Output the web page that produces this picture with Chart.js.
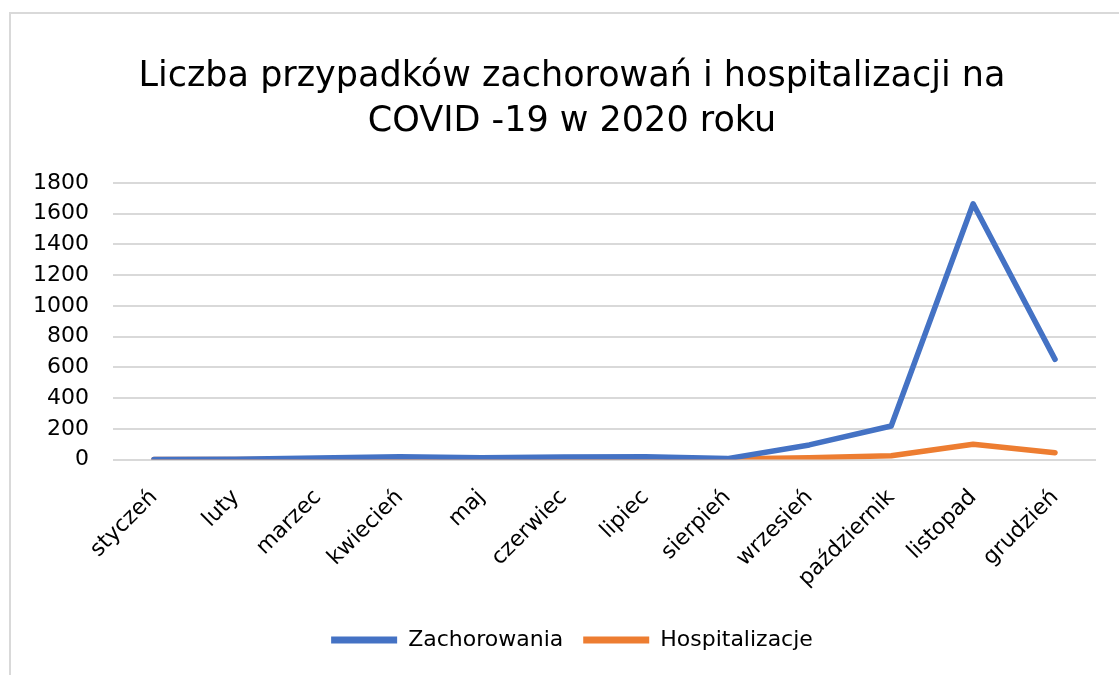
<!DOCTYPE html>
<html>
<head>
<meta charset="utf-8">
<script src="https://cdn.jsdelivr.net/npm/chart.js@4.4.1/dist/chart.umd.min.js"></script>
<style>
  html, body { margin: 0; padding: 0; background: #fff; overflow: hidden; }
  #wrap { position: relative; width: 1119px; height: 675px; overflow: hidden; }
  #frame { position: absolute; left: 9px; top: 12px; right: -5px; bottom: -5px;
           border-left: 2px solid #d9d9d9; border-top: 2px solid #d9d9d9; }
  canvas { position: absolute; left: 0; top: 0; }
</style>
</head>
<body>
<div id="wrap">
  <div id="frame"></div>
  <!-- wykres jest szerszy niz kadr, prawa krawedz ucieta jak w oryginale -->
  <canvas id="myChart" width="1135" height="675"></canvas>
</div>
<script>
// dane z wykresu
const months = ["styczeń", "luty", "marzec", "kwiecień", "maj", "czerwiec",
  "lipiec", "sierpień", "wrzesień", "październik", "listopad", "grudzień"];
const zachorowania = [0, 2, 10, 18, 12, 16, 18, 6, 95, 218, 1665, 652];
const hospitalizacje = [0, 0, 2, 5, 3, 4, 5, 3, 12, 25, 100, 44];
const yTicks = [0, 200, 400, 600, 800, 1000, 1200, 1400, 1600, 1800];

const font = "DejaVu Sans";
const ctx = document.getElementById("myChart");

const chart = new Chart(ctx, {
  type: "line",
  data: {
    labels: months,
    datasets: [
      {
        label: "Zachorowania",
        data: zachorowania,
        borderColor: "#4472C4",
        backgroundColor: "#4472C4",
        borderWidth: 5.5,
        borderCapStyle: "round",
        borderJoinStyle: "round",
        pointRadius: 0,
        tension: 0,
      },
      {
        label: "Hospitalizacje",
        data: hospitalizacje,
        borderColor: "#ED7D31",
        backgroundColor: "#ED7D31",
        borderWidth: 5.5,
        borderCapStyle: "round",
        borderJoinStyle: "round",
        pointRadius: 0,
        tension: 0,
      },
    ],
  },
  options: {
    responsive: false,
    animation: false,
    layout: { padding: { left: 9, right: 0, top: 42, bottom: 14 } },
    plugins: {
      title: {
        display: true,
        text: ["Liczba przypadków zachorowań i hospitalizacji na", "COVID -19 w 2020 roku"],
        color: "#000",
        font: { family: font, size: 35, weight: "normal", lineHeight: 1.3 },
        padding: { top: 12, bottom: 38 },
      },
      legend: {
        position: "bottom",
        labels: {
          color: "#000",
          font: { family: font, size: 22 },
          boxWidth: 66,
          boxHeight: 7,
          padding: 20,
          generateLabels: (c) =>
            Chart.defaults.plugins.legend.labels.generateLabels(c).map((l) => ({ ...l, lineWidth: 0 })),
        },
      },
      tooltip: { enabled: false },
    },
    scales: {
      x: {
        offset: true,
        grid: { display: false },
        border: { display: false },
        ticks: {
          color: "#000",
          font: { family: font, size: 22 },
          minRotation: 45,
          maxRotation: 45,
          padding: 17,
        },
      },
      y: {
        min: 0,
        max: 1800,
        afterBuildTicks: (axis) => { axis.ticks = yTicks.map((v) => ({ value: v })); },
        grid: { color: "#d9d9d9", lineWidth: 2, drawTicks: false },
        border: { display: false },
        ticks: {
          color: "#000",
          font: { family: font, size: 22 },
          padding: 24,
          autoSkip: false,
          callback: (v) => String(v),
        },
      },
      // pusty margines z prawej strony obszaru wykresu
      yRight: {
        position: "right",
        grid: { display: false },
        border: { display: false },
        ticks: { display: false },
        afterFit: (axis) => { axis.width = 39; },
      },
    },
  },
});
</script>
</body>
</html>
